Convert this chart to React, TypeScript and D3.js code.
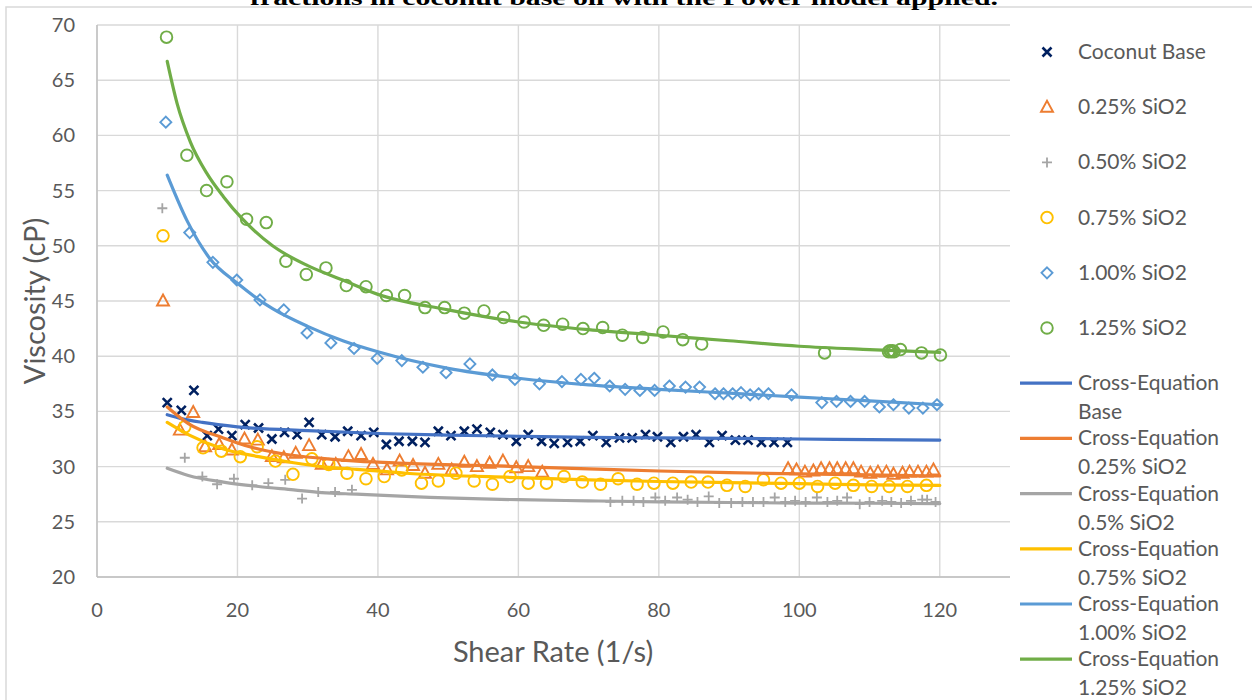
import React from "react";
import * as d3 from "d3";

// ---------- data ----------
const xTicks = [0, 20, 40, 60, 80, 100, 120];
const yTicks = [20, 25, 30, 35, 40, 45, 50, 55, 60, 65, 70];

const coconutBase: [number, number][] = [
  [10.0, 35.8], [12.0, 35.1], [13.8, 36.9], [15.7, 32.8], [17.3, 33.4], [19.2, 32.8], [21.1, 33.8], [23.0, 33.5],
  [24.9, 32.5], [26.7, 33.1], [28.5, 32.9], [30.2, 34.0], [32.0, 32.9], [33.9, 32.7], [35.7, 33.2], [37.6, 32.8],
  [39.4, 33.1], [41.2, 32.0], [43.0, 32.3], [44.9, 32.3], [46.7, 32.2], [48.6, 33.2], [50.4, 32.8], [52.3, 33.2],
  [54.1, 33.4], [56.0, 33.1], [57.8, 32.9], [59.7, 32.3], [61.4, 32.9], [63.3, 32.3], [65.1, 32.1], [67.0, 32.2],
  [68.8, 32.3], [70.6, 32.8], [72.5, 32.2], [74.4, 32.6], [76.2, 32.6], [78.1, 32.9], [79.8, 32.7], [81.7, 32.2],
  [83.5, 32.7], [85.3, 32.9], [87.2, 32.2], [89.0, 32.8], [90.9, 32.4], [92.7, 32.4], [94.6, 32.2], [96.4, 32.2],
  [98.3, 32.2],
];

const sio2_025: [number, number][] = [
  [9.4, 45.0], [11.8, 33.3], [13.7, 34.9], [15.4, 31.8], [17.4, 32.0], [19.2, 31.5], [21.0, 32.5], [22.9, 32.4],
  [24.9, 30.9], [26.6, 30.8], [28.3, 31.2], [30.2, 31.9], [32.0, 30.2], [34.0, 30.2], [35.8, 30.9], [37.6, 31.1],
  [39.3, 30.2], [41.3, 29.7], [43.1, 30.5], [45.0, 30.1], [46.7, 29.4], [48.6, 30.2], [50.5, 29.7], [52.3, 30.4],
  [54.1, 30.0], [55.9, 30.3], [57.8, 30.5], [59.7, 29.9], [61.4, 30.0], [63.4, 29.5],
  [98.4, 29.8], [99.6, 29.7], [100.8, 29.5], [102.0, 29.6], [103.1, 29.8], [104.3, 29.8], [105.4, 29.8],
  [106.6, 29.8], [107.7, 29.8], [108.8, 29.5], [110.1, 29.4], [111.2, 29.5], [112.4, 29.5], [113.4, 29.3],
  [114.7, 29.4], [115.7, 29.5], [116.9, 29.5], [118.1, 29.5], [119.1, 29.7],
];

const sio2_050: [number, number][] = [
  [9.3, 53.4], [12.5, 30.8], [15.0, 29.1], [17.1, 28.4], [19.5, 28.9], [22.1, 28.3], [24.4, 28.5], [26.8, 28.8],
  [29.2, 27.1], [31.5, 27.7], [33.9, 27.7], [36.3, 27.9],
  [73.1, 26.8], [74.8, 26.9], [76.4, 26.9], [77.8, 26.8], [79.5, 27.2], [80.9, 26.9], [82.6, 27.2], [84.1, 27.0],
  [85.5, 26.8], [87.1, 27.3], [88.6, 26.7], [90.3, 26.7], [91.9, 26.8], [93.4, 26.8], [94.9, 26.8], [96.5, 27.2],
  [98.0, 26.8], [99.4, 26.9], [100.9, 26.8], [102.5, 27.2], [104.0, 26.8], [105.4, 26.9], [106.8, 27.2],
  [108.6, 26.6], [110.0, 26.8], [111.8, 26.9], [113.1, 26.8], [114.5, 26.7], [115.9, 26.9], [117.5, 27.0],
  [118.2, 27.0], [119.4, 26.8],
];

const sio2_075: [number, number][] = [
  [9.4, 50.9], [12.5, 33.6], [15.1, 31.7], [17.7, 31.4], [20.4, 30.9], [22.8, 31.8], [25.4, 30.5], [27.9, 29.3],
  [30.6, 30.7], [33.0, 30.2], [35.6, 29.4], [38.3, 28.9], [40.9, 29.1], [43.4, 29.7], [46.2, 28.5], [48.6, 28.7],
  [51.1, 29.4], [53.7, 28.7], [56.3, 28.4], [58.8, 29.1], [61.4, 28.5], [64.0, 28.5], [66.5, 29.1], [69.1, 28.6],
  [71.7, 28.4], [74.2, 28.9], [76.9, 28.4], [79.3, 28.5], [82.0, 28.5], [84.6, 28.6], [87.0, 28.6], [89.7, 28.3],
  [92.3, 28.2], [94.9, 28.8], [97.4, 28.5], [100.0, 28.5], [102.6, 28.2], [105.1, 28.5], [107.7, 28.3],
  [110.3, 28.2], [112.8, 28.2], [115.4, 28.2], [118.1, 28.3],
];

const sio2_100: [number, number][] = [
  [9.8, 61.2], [13.2, 51.2], [16.5, 48.5], [19.9, 46.9], [23.2, 45.1], [26.6, 44.2], [29.9, 42.1], [33.3, 41.2],
  [36.6, 40.7], [39.9, 39.8], [43.4, 39.6], [46.4, 39.0], [49.7, 38.5], [53.1, 39.3], [56.3, 38.3], [59.5, 37.9],
  [63.0, 37.5], [66.2, 37.7], [68.9, 37.9], [70.8, 38.0], [73.0, 37.3], [75.2, 37.0], [77.3, 36.9], [79.4, 36.9],
  [81.5, 37.3], [83.8, 37.2], [85.8, 37.2], [88.0, 36.6], [89.2, 36.6], [90.5, 36.6], [91.7, 36.7], [93.0, 36.5],
  [94.2, 36.6], [95.6, 36.6], [98.9, 36.5], [103.2, 35.8], [105.3, 35.9], [107.3, 35.9], [109.3, 35.9],
  [111.4, 35.4], [113.4, 35.6], [115.6, 35.3], [117.6, 35.3], [119.6, 35.6],
];

const sio2_125: [number, number][] = [
  [9.9, 68.9], [12.8, 58.2], [15.6, 55.0], [18.5, 55.8], [21.3, 52.4], [24.1, 52.1], [26.9, 48.6], [29.8, 47.4],
  [32.6, 48.0], [35.5, 46.4], [38.3, 46.3], [41.2, 45.5], [43.8, 45.5], [46.7, 44.4], [49.5, 44.4], [52.3, 43.9],
  [55.1, 44.1], [57.9, 43.5], [60.8, 43.1], [63.6, 42.8], [66.3, 42.9], [69.2, 42.5], [72.0, 42.6], [74.8, 41.9],
  [77.7, 41.7], [80.6, 42.2], [83.4, 41.5], [86.1, 41.1], [103.6, 40.3], [112.7, 40.4], [112.9, 40.5],
  [113.1, 40.4], [113.3, 40.5], [113.5, 40.4], [114.4, 40.6], [117.4, 40.3], [120.1, 40.1],
];

const crossBase: [number, number][] = [
  [10, 34.7], [12, 34.35], [15, 34.0], [20, 33.6], [30, 33.25], [40, 33.0], [50, 32.85], [60, 32.75], [70, 32.65],
  [80, 32.6], [90, 32.55], [100, 32.5], [110, 32.45], [120, 32.4],
];
const cross025: [number, number][] = [
  [10, 35.4], [13, 33.9], [18, 32.6], [22, 31.75], [27, 31.1], [32, 30.75], [37, 30.5], [44, 30.3], [60, 30.0],
  [70, 29.8], [80, 29.6], [90, 29.45], [100, 29.35], [110, 29.25], [120, 29.15],
];
const cross050: [number, number][] = [
  [10, 29.85], [13, 29.2], [18, 28.6], [23, 28.2], [28, 27.9], [32, 27.65], [37, 27.5], [44, 27.3], [60, 27.0],
  [70, 26.9], [80, 26.8], [90, 26.75], [100, 26.7], [110, 26.68], [120, 26.65],
];
const cross075: [number, number][] = [
  [10, 34.0], [13, 32.9], [18, 31.6], [23, 30.9], [28, 30.35], [32, 30.0], [37, 29.75], [44, 29.4], [60, 29.0],
  [70, 28.8], [80, 28.65], [90, 28.55], [100, 28.45], [110, 28.35], [120, 28.3],
];
const cross100: [number, number][] = [
  [10, 56.4], [12.8, 52.3], [16, 48.9], [20, 46.6], [25, 44.3], [30, 42.7], [35, 41.4], [40, 40.4], [50, 38.9],
  [60, 38.0], [70, 37.4], [80, 37.0], [90, 36.65], [100, 36.3], [110, 35.95], [120, 35.6],
];
const cross125: [number, number][] = [
  [10, 66.7], [11.4, 62.9], [13.3, 59.4], [15.6, 56.6], [18, 54.45], [20.6, 52.5], [25, 50.0], [30, 48.2],
  [35, 46.9], [40, 45.6], [50, 44.2], [60, 43.1], [70, 42.4], [80, 41.9], [90, 41.4], [100, 40.9], [110, 40.6],
  [120, 40.35],
];

const markerNames = ["Coconut Base", "0.25% SiO2", "0.50% SiO2", "0.75% SiO2", "1.00% SiO2", "1.25% SiO2"];
const lineNames = [
  ["Cross-Equation", "Base"],
  ["Cross-Equation", "0.25% SiO2"],
  ["Cross-Equation", "0.5% SiO2"],
  ["Cross-Equation", "0.75% SiO2"],
  ["Cross-Equation", "1.00% SiO2"],
  ["Cross-Equation", "1.25% SiO2"],
];

// ---------- styling ----------
const W = 1252;
const H = 700;
const textColor = "#595959";
const font = "Lato, 'Open Sans', sans-serif";

type Shape = "x" | "triangle" | "plus" | "circle" | "diamond";
const markerSeries: { data: [number, number][]; shape: Shape; color: string }[] = [
  { data: coconutBase, shape: "x", color: "#002060" },
  { data: sio2_025, shape: "triangle", color: "#ED7D31" },
  { data: sio2_050, shape: "plus", color: "#A5A5A5" },
  { data: sio2_075, shape: "circle", color: "#FFC000" },
  { data: sio2_100, shape: "diamond", color: "#5B9BD5" },
  { data: sio2_125, shape: "circle", color: "#70AD47" },
];
const lineSeries: { data: [number, number][]; color: string }[] = [
  { data: crossBase, color: "#4472C4" },
  { data: cross025, color: "#ED7D31" },
  { data: cross050, color: "#A5A5A5" },
  { data: cross075, color: "#FFC000" },
  { data: cross100, color: "#5B9BD5" },
  { data: cross125, color: "#70AD47" },
];

function Marker({ shape, color, cx, cy }: { shape: Shape; color: string; cx: number; cy: number }) {
  const t = `translate(${cx},${cy})`;
  switch (shape) {
    case "x":
      return (
        <path transform={t} d="M-4.5,-4.5L4.5,4.5M-4.5,4.5L4.5,-4.5" stroke={color} strokeWidth={2.6} fill="none" />
      );
    case "plus":
      return <path transform={t} d="M-5,0L5,0M0,-5L0,5" stroke={color} strokeWidth={1.8} fill="none" />;
    case "triangle":
      return <path transform={t} d="M0,-6.5L6,4.5L-6,4.5Z" stroke={color} strokeWidth={1.9} fill="none" />;
    case "diamond":
      return <path transform={t} d="M0,-5.5L5.5,0L0,5.5L-5.5,0Z" stroke={color} strokeWidth={1.9} fill="none" />;
    default:
      return <circle cx={cx} cy={cy} r={5.8} stroke={color} strokeWidth={1.9} fill="none" />;
  }
}

export default function App() {
  const x = d3.scaleLinear().domain([0, 130]).range([97, 1010]);
  const y = d3.scaleLinear().domain([20, 70]).range([577, 25]);
  const line = d3
    .line<[number, number]>()
    .x((d) => x(d[0]))
    .y((d) => y(d[1]))
    .curve(d3.curveMonotoneX);

  const legX = 1047;
  const legTextX = 1078;
  const legY0 = 52;
  const legStep = 55.2;
  const legFont = 21;

  return (
    <svg
      width={W}
      height={H}
      style={{ position: "absolute", left: 0, top: 0, background: "#fff" }}
      fontFamily={font}
    >
      <rect x={0} y={0} width={W} height={H} fill="#fff" />
      {/* chart frame */}
      <rect x={6} y={7} width={1300} height={760} fill="none" stroke="#D9D9D9" strokeWidth={1.5} />
      {/* title, partly above the picture's top edge as in the reference */}
      <text
        x={624}
        y={5}
        textAnchor="middle"
        fontFamily="'Liberation Serif', serif"
        fontWeight="bold"
        fontSize={22}
        fill="#000"
        textLength={748}
        lengthAdjust="spacingAndGlyphs"
      >
        fractions in coconut base oil with the Power model applied.
      </text>

      {/* gridlines */}
      {yTicks.map((t) => (
        <line key={"gy" + t} x1={x(0)} x2={x(130)} y1={y(t)} y2={y(t)} stroke="#D9D9D9" strokeWidth={1.4} />
      ))}
      {xTicks.map((t) => (
        <line key={"gx" + t} x1={x(t)} x2={x(t)} y1={y(20)} y2={y(70)} stroke="#D9D9D9" strokeWidth={1.4} />
      ))}
      {/* axes */}
      <line x1={x(0)} x2={x(0)} y1={y(20)} y2={y(70)} stroke="#BFBFBF" strokeWidth={1.4} />
      <line x1={x(0)} x2={x(130)} y1={y(20)} y2={y(20)} stroke="#BFBFBF" strokeWidth={1.4} />

      {/* tick labels */}
      {yTicks.map((t) => (
        <text key={"ty" + t} x={75} y={y(t) + 7} textAnchor="end" fontSize={20} fill={textColor}>
          {t}
        </text>
      ))}
      {xTicks.map((t) => (
        <text key={"tx" + t} x={x(t)} y={617} textAnchor="middle" fontSize={20} fill={textColor}>
          {t}
        </text>
      ))}

      {/* axis titles */}
      <text x={553} y={662} textAnchor="middle" fontSize={29} fill={textColor}>
        Shear Rate (1/s)
      </text>
      <text transform={`translate(45,${301}) rotate(-90)`} textAnchor="middle" fontSize={29} fill={textColor}>
        Viscosity (cP)
      </text>

      {/* markers */}
      {markerSeries.map((s, i) => (
        <g key={"m" + i}>
          {s.data.map((d, j) => (
            <Marker key={j} shape={s.shape} color={s.color} cx={x(d[0])} cy={y(d[1])} />
          ))}
        </g>
      ))}

      {/* fitted lines */}
      {lineSeries.map((s, i) => (
        <path key={"l" + i} d={line(s.data) || ""} stroke={s.color} strokeWidth={3.2} fill="none" strokeLinecap="round" />
      ))}

      {/* legend */}
      {markerSeries.map((s, i) => (
        <g key={"lg" + i}>
          <Marker shape={s.shape} color={s.color} cx={legX} cy={legY0 + i * legStep} />
          <text x={legTextX} y={legY0 + i * legStep + 7} fontSize={legFont} fill={textColor}>
            {markerNames[i]}
          </text>
        </g>
      ))}
      {lineSeries.map((s, i) => {
        const yy = legY0 + (6 + i) * legStep;
        return (
          <g key={"ll" + i}>
            <line x1={1020} x2={1072} y1={yy} y2={yy} stroke={s.color} strokeWidth={3.2} />
            <text x={legTextX} y={yy + 7} fontSize={legFont} fill={textColor}>
              {lineNames[i][0]}
            </text>
            <text x={legTextX} y={yy + 36} fontSize={legFont} fill={textColor}>
              {lineNames[i][1]}
            </text>
          </g>
        );
      })}
    </svg>
  );
}
